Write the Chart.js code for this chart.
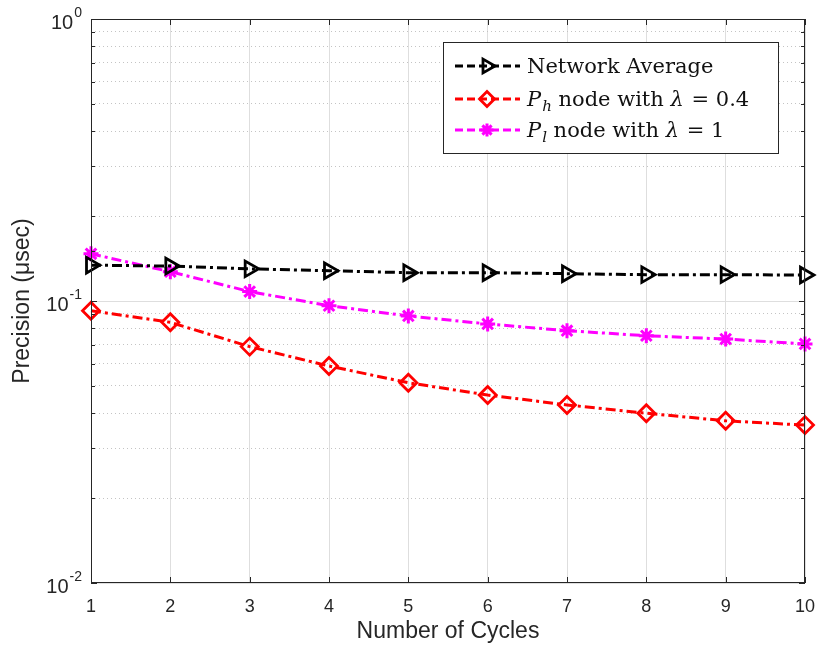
<!DOCTYPE html>
<html>
<head>
<meta charset="utf-8">
<script src="https://cdn.jsdelivr.net/npm/chart.js@4.4.0/dist/chart.umd.min.js"></script>
<style>
  html, body { margin: 0; padding: 0; background: #fff; }
  #wrap { width: 820px; height: 651px; }
</style>
</head>
<body>
<div id="wrap"><canvas id="precisionChart"></canvas></div>
<script>
// Data
const cycles = ['1', '2', '3', '4', '5', '6', '7', '8', '9', '10'];
const networkAverage = [0.134, 0.133, 0.130, 0.128, 0.126, 0.126, 0.125, 0.124, 0.124, 0.1236];
const phNode = [0.0924, 0.084, 0.0689, 0.0588, 0.0513, 0.0464, 0.0428, 0.0400, 0.0376, 0.0363];
const plNode = [0.147, 0.127, 0.108, 0.0962, 0.0885, 0.0829, 0.0785, 0.0753, 0.0733, 0.0704];

// y tick labels (10^exp)
const yTickValues = [1, 0.1, 0.01];
const yTickExponents = ['0', '-1', '-2'];

// legend text runs (i = italic, sub = subscript)
const legendLabels = [
    [{ t: 'Network Average' }],
    [{ t: 'P', i: true }, { t: 'h', i: true, sub: true }, { t: ' node with ' }, { t: 'λ', i: true }, { t: ' = 0.4' }],
    [{ t: 'P', i: true }, { t: 'l', i: true, sub: true }, { t: ' node with ' }, { t: 'λ', i: true }, { t: ' = 1' }]
];

const SANS = '"Liberation Sans", Arial, sans-serif';
const SERIF = '"DejaVu Serif", serif';
const dashDot = [10, 4, 3, 4];

function isDecade(v) {
    const l = Math.log10(v);
    return Math.abs(l - Math.round(l)) < 1e-6;
}

// frame, inner tick marks and y labels with superscripts
const plotFrame = {
    id: 'plotFrame',
    afterDatasetsDraw(chart) {
        const { ctx, chartArea: a, scales: { x, y } } = chart;
        ctx.save();
        ctx.strokeStyle = '#262626';
        ctx.lineWidth = 1;
        ctx.strokeRect(a.left + 0.5, a.top + 0.5, a.right - a.left - 1, a.bottom - a.top - 1);

        ctx.beginPath();
        x.ticks.forEach((t, i) => {
            const px = Math.round(x.getPixelForTick(i)) + 0.5;
            ctx.moveTo(px, a.bottom); ctx.lineTo(px, a.bottom - 6);
            ctx.moveTo(px, a.top); ctx.lineTo(px, a.top + 6);
        });
        y.ticks.forEach(t => {
            const py = Math.round(y.getPixelForValue(t.value)) + 0.5;
            const len = isDecade(t.value) ? 6 : 4;
            ctx.moveTo(a.left, py); ctx.lineTo(a.left + len, py);
            ctx.moveTo(a.right, py); ctx.lineTo(a.right - len, py);
        });
        ctx.stroke();

        ctx.fillStyle = '#262626';
        ctx.textBaseline = 'middle';
        yTickValues.forEach((v, i) => {
            const py = y.getPixelForValue(v);
            const right = a.left - 9;
            ctx.font = '14px ' + SANS;
            ctx.textAlign = 'right';
            ctx.fillText(yTickExponents[i], right, py - 6);
            const ew = ctx.measureText(yTickExponents[i]).width;
            ctx.font = '20px ' + SANS;
            ctx.fillText('10', right - ew - 1, py + 4);
        });
        ctx.restore();
    },
    afterDraw(chart) {
        const { ctx } = chart;
        const box = { left: 443, top: 42, right: 778, bottom: 153 };
        const rows = [66, 99, 130];
        ctx.save();
        ctx.fillStyle = '#fff';
        ctx.fillRect(box.left, box.top, box.right - box.left, box.bottom - box.top);
        ctx.strokeStyle = '#262626';
        ctx.lineWidth = 1;
        ctx.strokeRect(box.left + 0.5, box.top + 0.5, box.right - box.left, box.bottom - box.top);

        chart.data.datasets.forEach((ds, i) => {
            const yy = rows[i];
            ctx.save();
            ctx.strokeStyle = ds.borderColor;
            ctx.lineWidth = ds.borderWidth;
            ctx.setLineDash([8, 4]);
            ctx.beginPath();
            ctx.moveTo(455, yy); ctx.lineTo(520, yy);
            ctx.stroke();
            ctx.setLineDash([]);
            ctx.fillStyle = 'rgba(0,0,0,0)';
            ctx.lineWidth = ds.pointBorderWidth;
            Chart.helpers.drawPoint(ctx, {
                pointStyle: ds.pointStyle,
                rotation: ds.pointRotation || 0,
                radius: ds.pointRadius - 1,
                borderWidth: ds.pointBorderWidth
            }, 487, yy);
            ctx.restore();

            let xx = 527;
            ctx.fillStyle = '#111';
            ctx.textAlign = 'left';
            ctx.textBaseline = 'alphabetic';
            legendLabels[i].forEach(run => {
                const size = run.sub ? 15 : 21;
                ctx.font = (run.i ? 'italic ' : '') + size + 'px ' + SERIF;
                ctx.fillText(run.t, xx, yy + 7 + (run.sub ? 5 : 0));
                xx += ctx.measureText(run.t).width + (run.i && !run.sub ? 1 : 0);
            });
        });
        ctx.restore();
    }
};

new Chart(document.getElementById('precisionChart'), {
    type: 'line',
    data: {
        labels: cycles,
        datasets: [
            {
                label: 'Network Average',
                data: networkAverage,
                borderColor: '#000000',
                borderWidth: 3,
                borderDash: dashDot,
                pointStyle: 'triangle',
                pointRotation: 90,
                pointRadius: 9,
                pointBorderWidth: 2.8,
                pointBorderColor: '#000000',
                pointBackgroundColor: 'rgba(0,0,0,0)',
                tension: 0
            },
            {
                label: 'Ph node with λ = 0.4',
                data: phNode,
                borderColor: '#ff0000',
                borderWidth: 3,
                borderDash: dashDot,
                pointStyle: 'rectRot',
                pointRadius: 8.5,
                pointBorderWidth: 2.8,
                pointBorderColor: '#ff0000',
                pointBackgroundColor: 'rgba(0,0,0,0)',
                tension: 0
            },
            {
                label: 'Pl node with λ = 1',
                data: plNode,
                borderColor: '#ff00ff',
                borderWidth: 3,
                borderDash: dashDot,
                pointStyle: 'star',
                pointRadius: 7.5,
                pointBorderWidth: 3,
                pointBorderColor: '#ff00ff',
                pointBackgroundColor: 'rgba(0,0,0,0)',
                tension: 0
            }
        ]
    },
    options: {
        responsive: true,
        maintainAspectRatio: false,
        animation: false,
        layout: { padding: { top: 19, right: 15, left: 0, bottom: 0 } },
        plugins: {
            legend: { display: false },
            tooltip: { enabled: false }
        },
        scales: {
            x: {
                type: 'category',
                offset: false,
                afterFit(scale) {
                    scale.height = 68;
                    scale.paddingLeft = 0;
                    scale.paddingRight = 0;
                },
                grid: { color: '#dedede', lineWidth: 1, drawTicks: false },
                border: { display: false },
                ticks: {
                    color: '#262626',
                    padding: 13,
                    maxRotation: 0,
                    font: { family: SANS, size: 18 }
                },
                title: {
                    display: true,
                    text: 'Number of Cycles',
                    color: '#262626',
                    padding: { top: 0, bottom: 6 },
                    font: { family: SANS, size: 23 }
                }
            },
            y: {
                type: 'logarithmic',
                min: 0.01,
                max: 1,
                afterFit(scale) { scale.width = 91; },
                grid: {
                    drawTicks: false,
                    color: ctx => isDecade(ctx.tick.value) ? '#dedede' : '#c4c4c4',
                    lineWidth: 1
                },
                border: {
                    display: false,
                    dash: ctx => isDecade(ctx.tick.value) ? [] : [1, 3]
                },
                ticks: { display: false },
                title: {
                    display: true,
                    text: 'Precision (μsec)',
                    color: '#262626',
                    padding: { top: 9, bottom: 0 },
                    font: { family: SANS, size: 23 }
                }
            }
        }
    },
    plugins: [plotFrame]
});
</script>
</body>
</html>
